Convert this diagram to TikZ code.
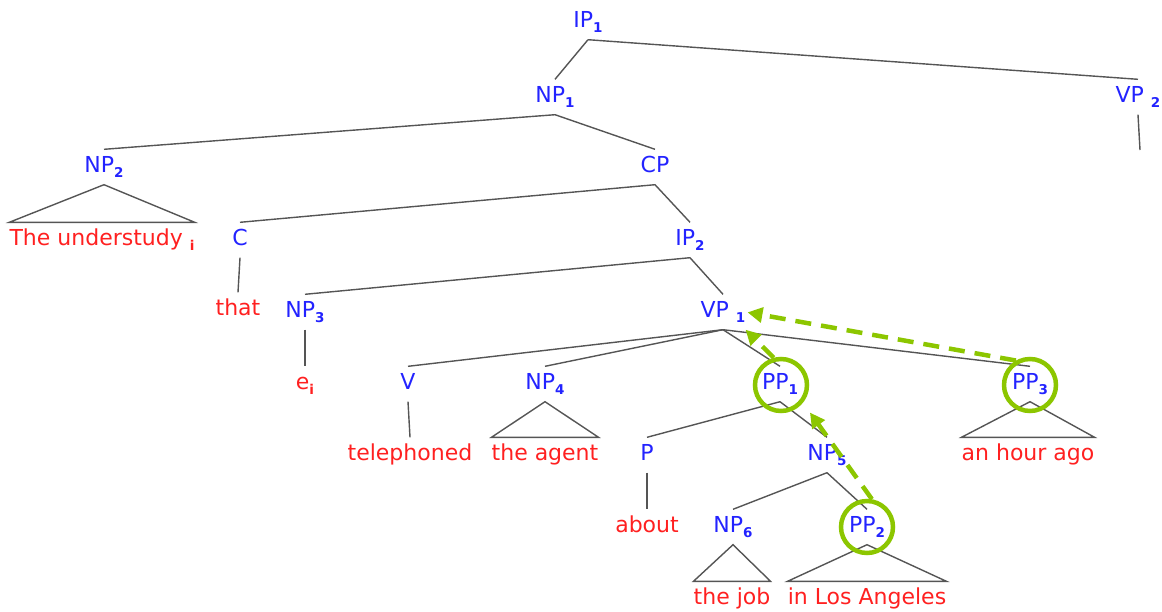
\documentclass[tikz,border=0pt]{standalone}
\usepackage{fontspec}
\setmainfont{DejaVu Sans}
\usetikzlibrary{arrows.meta}
\definecolor{tblue}{RGB}{35,35,255}
\definecolor{tred}{RGB}{255,32,32}
\definecolor{tgreen}{RGB}{140,198,0}
\definecolor{tline}{RGB}{85,85,85}
\newcommand\sbs[1]{\raisebox{-0.45ex}{\fontsize{13.5}{14}\selectfont\bfseries #1}}
\tikzset{
  cat/.style={text=tblue, font=\fontsize{22}{24}\selectfont, inner xsep=0pt, inner ysep=7pt, text height=16pt, text depth=5pt},
  leaf/.style={text=tred, font=\fontsize{22}{24}\selectfont, inner xsep=0pt, inner ysep=7pt, text height=16pt, text depth=5pt},
  branch/.style={draw=tline, line width=1.4pt},
  ring/.style={draw=tgreen, line width=4.5pt, circle, minimum size=52pt, inner sep=0pt},
  move/.style={draw=tgreen, line width=4.5pt, dash pattern=on 16pt off 10pt, -{Triangle[length=15pt,width=15pt]}}
}
\begin{document}
\begin{tikzpicture}[x=1pt,y=-1pt]
\useasboundingbox (0,0) rectangle (1162,611);
% categories
\node[cat] (ip1) at (588,22) {IP\sbs{1}};
\node[cat] (np1) at (555,97) {NP\sbs{1}};
\node[cat] (vp2) at (1138,97) {VP \sbs{2}};
\coordinate (vp2end) at (1140,150);
\node[cat] (np2) at (104,167) {NP\sbs{2}};
\node[cat] (cp) at (655,167) {CP};
\node[cat] (c) at (240,240) {C};
\node[cat] (ip2) at (690,240) {IP\sbs{2}};
\node[cat] (np3) at (305,312) {NP\sbs{3}};
\node[cat] (vp1) at (723,312) {VP \sbs{1}};
\node[cat] (v) at (408,384) {V};
\node[cat] (np4) at (545,384) {NP\sbs{4}};
\node[cat] (pp1) at (780,384) {PP\sbs{1}};
\node[cat] (pp3) at (1030,384) {PP\sbs{3}};
\node[cat] (p) at (647,455) {P};
\node[cat] (np5) at (827,455) {NP\sbs{5}};
\node[cat] (np6) at (733,527) {NP\sbs{6}};
\node[cat] (pp2) at (867,527) {PP\sbs{2}};
% leaves
\node[leaf] (lund) at (102,240) {The understudy \sbs{i}};
\node[leaf] (lthat) at (238,310) {that};
\node[leaf] (le) at (305,384) {e\sbs{i}};
\node[leaf] (ltel) at (410,455) {telephoned};
\node[leaf] (lagent) at (545,455) {the agent};
\node[leaf] (lhour) at (1028,455) {an hour ago};
\node[leaf] (labout) at (647,527) {about};
\node[leaf] (ljob) at (732,599) {the job};
\node[leaf] (lla) at (867,599) {in Los Angeles};
% branches
\draw[branch] (ip1.south) -- (np1.north);
\draw[branch] (ip1.south) -- (vp2.north);
\draw[branch] (vp2.south) -- (vp2end);
\draw[branch] (np1.south) -- (np2.north);
\draw[branch] (np1.south) -- (cp.north);
\draw[branch] (cp.south) -- (c.north);
\draw[branch] (cp.south) -- (ip2.north);
\draw[branch] (c.south) -- (lthat.north);
\draw[branch] (ip2.south) -- (np3.north);
\draw[branch] (ip2.south) -- (vp1.north);
\draw[branch] (np3.south) -- (le.north);
\draw[branch] (vp1.south) -- (v.north);
\draw[branch] (vp1.south) -- (np4.north);
\draw[branch] (vp1.south) -- (pp1.north);
\draw[branch] (vp1.south) -- (pp3.north);
\draw[branch] (v.south) -- (ltel.north);
\draw[branch] (pp1.south) -- (p.north);
\draw[branch] (pp1.south) -- (np5.north);
\draw[branch] (p.south) -- (labout.north);
\draw[branch] (np5.south) -- (np6.north);
\draw[branch] (np5.south) -- (pp2.north);
% triangles
\draw[branch] (np2.south) -- (lund.north east) -- (lund.north west) -- cycle;
\draw[branch] (np4.south) -- (lagent.north east) -- (lagent.north west) -- cycle;
\draw[branch] (pp3.south) -- (lhour.north east) -- (lhour.north west) -- cycle;
\draw[branch] (np6.south) -- (ljob.north east) -- (ljob.north west) -- cycle;
\draw[branch] (pp2.south) -- (lla.north east) -- (lla.north west) -- cycle;
% rings
\node[ring] (c1) at (781,385) {};
\node[ring] (c2) at (867,527) {};
\node[ring] (c3) at (1030,385) {};
% movement arrows
\draw[move, shorten >=12pt] (c2.80) -- (c1.-39);
\draw[move] (c1.105) -- (vp1.south east);
\draw[move, shorten >=2pt] (c3.120) -- (vp1.east);
\end{tikzpicture}
\end{document}
